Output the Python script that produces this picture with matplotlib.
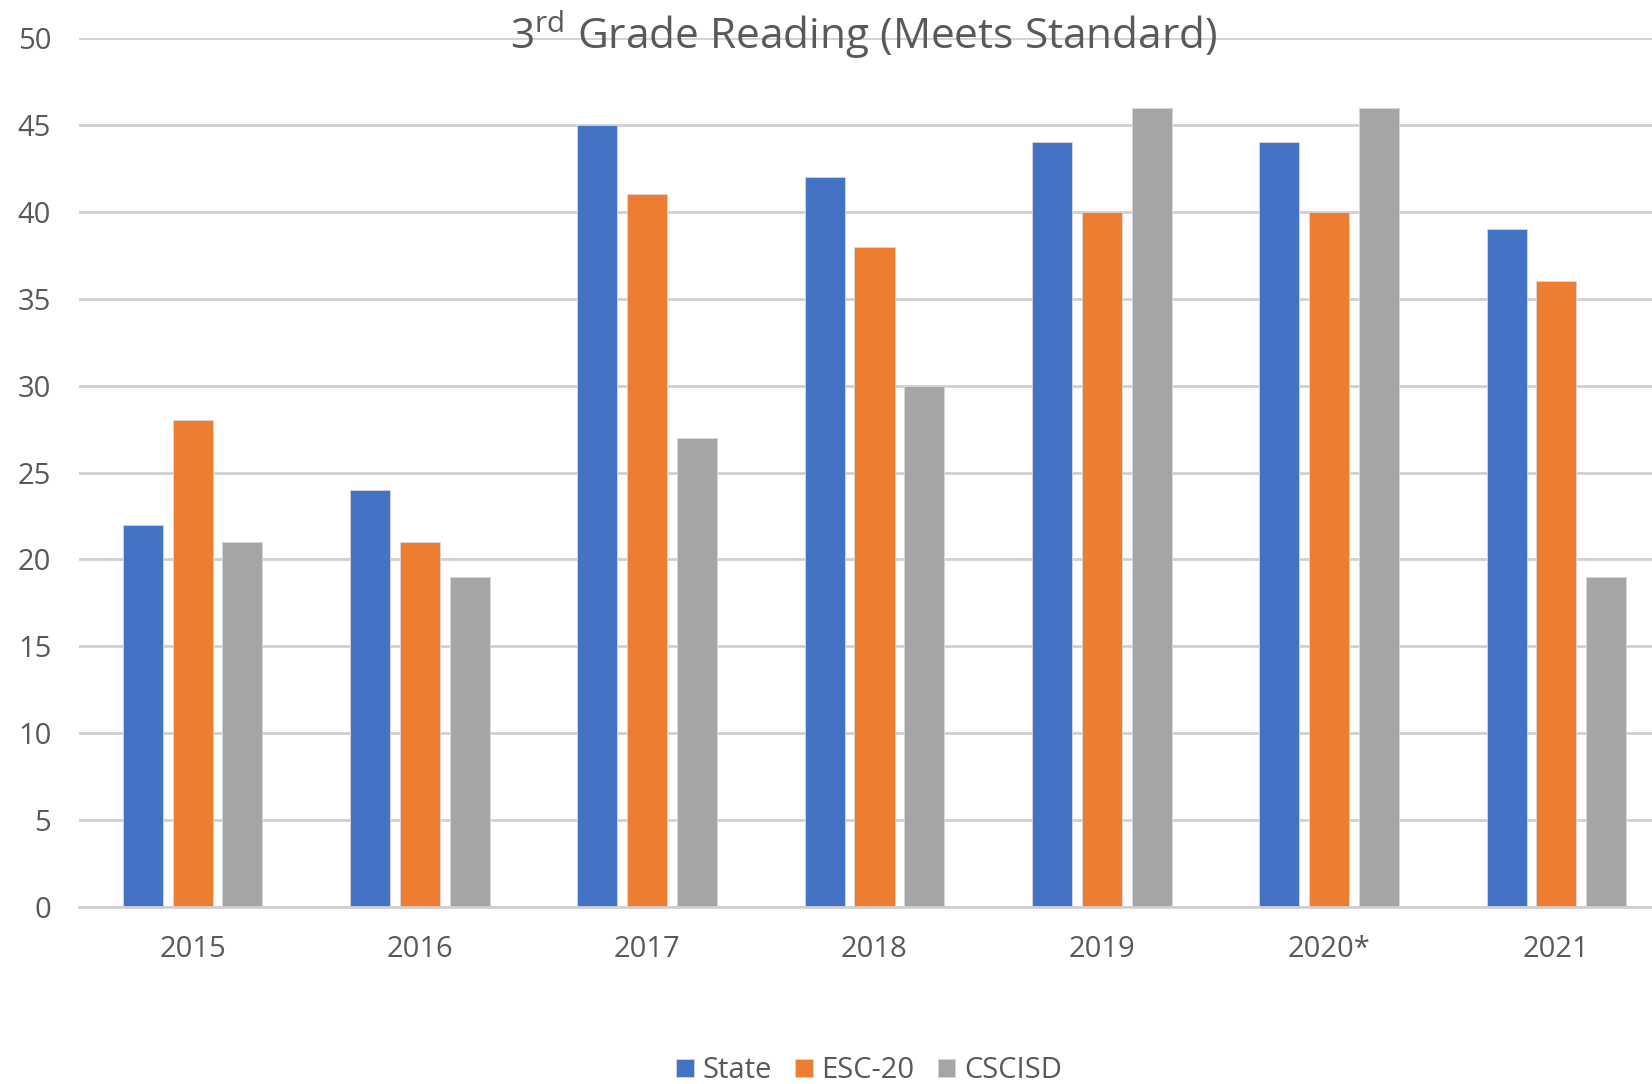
import matplotlib.pyplot as plt
import numpy as np

years = ["2015", "2016", "2017", "2018", "2019", "2020*", "2021"]
state = [22, 24, 45, 42, 44, 44, 39]
esc20 = [28, 21, 41, 38, 40, 40, 36]
cscisd = [21, 19, 27, 30, 46, 46, 19]
seriesNames = ["State", "ESC-20", "CSCISD"]
seriesColors = ["#4472C4", "#ED7D31", "#A5A5A5"]
yticks = [0, 5, 10, 15, 20, 25, 30, 35, 40, 45, 50]

plt.rcParams['font.family'] = ['Open Sans', 'DejaVu Sans']
textColor = "#595959"

W, H = 1652, 1084
fig = plt.figure(figsize=(W / 100, H / 100), dpi=100)
# axes runs a bit past the right edge, like the cropped original
axLeft, axRight = 79, 1652
axBottom, axTop = 907, 38
ax = fig.add_axes([axLeft / W, 1 - axBottom / H, (axRight - axLeft) / W, (axBottom - axTop) / H])

x = np.arange(len(years))
offset = 0.219
width = 0.176
for i, (vals, name, col) in enumerate(zip([state, esc20, cscisd], seriesNames, seriesColors)):
    ax.bar(x + (i - 1) * offset, vals, width, color=col, label=name,
           edgecolor="#d8d8d8", linewidth=0.6, zorder=3)

catWidth = (1670 - axLeft) / 7
ax.set_xlim(-0.5, -0.5 + (axRight - axLeft) / catWidth)
ax.set_ylim(0, 50)
ax.set_yticks(yticks)
ax.yaxis.grid(True, color="#d0d0d0", linewidth=2, zorder=0)
ax.set_xticks(x)
ax.set_xticklabels(years)
ax.tick_params(axis="both", length=0, colors=textColor, labelsize=21)
ax.tick_params(axis="y", pad=20)
ax.tick_params(axis="x", pad=20)
for s in ["top", "right", "left"]:
    ax.spines[s].set_visible(False)
ax.spines["bottom"].set_color("#d0d0d0")
ax.spines["bottom"].set_linewidth(2)
ax.spines["bottom"].set_zorder(4)

fig.text(864 / W, 1 - 49 / H, "3$^{\\mathregular{rd}}$ Grade Reading (Meets Standard)",
         ha="center", va="baseline", fontsize=30.5, color=textColor)

fig.legend(loc="center", bbox_to_anchor=(869 / W, 1 - 1071 / H), ncol=3, frameon=False,
           fontsize=21, labelcolor=textColor, handlelength=0.6, handleheight=0.6,
           handletextpad=0.3, columnspacing=0.8)

plt.savefig("out.png", dpi=100)
